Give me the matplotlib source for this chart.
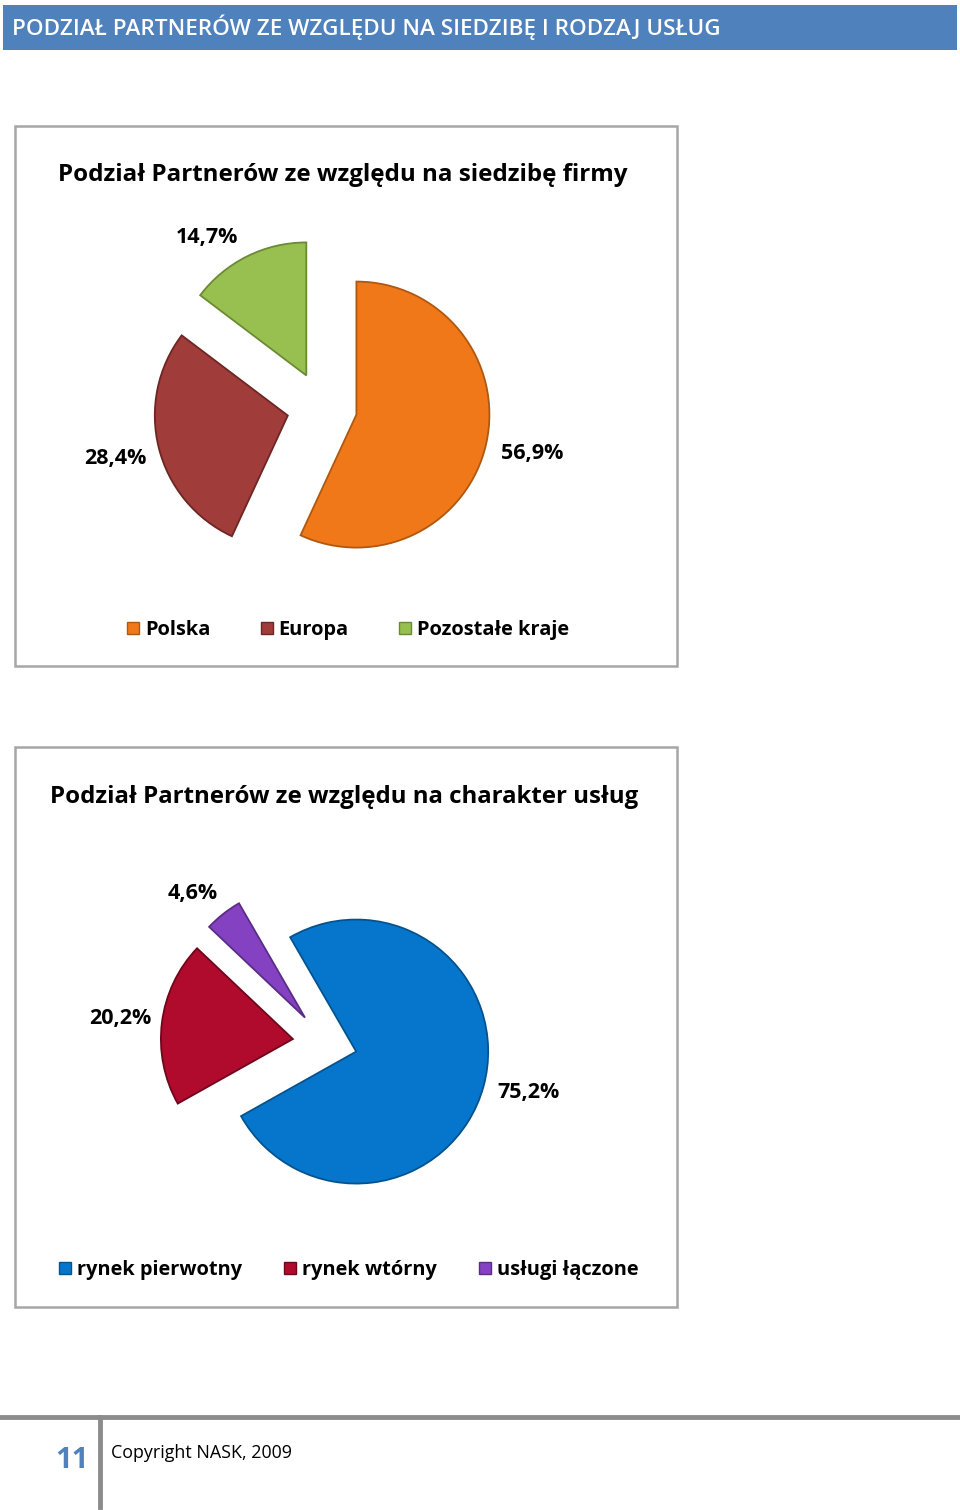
import matplotlib
matplotlib.use("Agg")
import numpy as np
import matplotlib.pyplot as plt
from matplotlib.patches import Rectangle, Patch

plt.rcParams['font.family'] = ['Open Sans', 'DejaVu Sans']

# data
header = "PODZIAŁ PARTNERÓW ZE WZGLĘDU NA SIEDZIBĘ I RODZAJ USŁUG"

title1 = "Podział Partnerów ze względu na siedzibę firmy"
names1 = ["Polska", "Europa", "Pozostałe kraje"]
values1 = [56.9, 28.4, 14.7]
colors1 = ["#F07818", "#A03C3A", "#98C050"]
edges1 = ["#B05810", "#6E2624", "#6A8A34"]

title2 = "Podział Partnerów ze względu na charakter usług"
names2 = ["rynek pierwotny", "rynek wtórny", "usługi łączone"]
values2 = [75.2, 20.2, 4.6]
colors2 = ["#0676CC", "#B00A2C", "#8442C2"]
edges2 = ["#04538F", "#70061C", "#5A2C86"]

W, H = 960, 1510
fig = plt.figure(figsize=(W / 100, H / 100), dpi=100)

# page layer in pixel coordinates
bg = fig.add_axes([0, 0, 1, 1])
bg.set_xlim(0, W)
bg.set_ylim(H, 0)
bg.axis('off')

# header bar
bg.add_patch(Rectangle((3, 5), 954, 45, facecolor="#4F81BD", edgecolor="none"))
bg.text(12, 27, header, color="white", fontsize=16.2, fontweight="semibold",
        ha="left", va="center")

# chart frames
for top, h in ((126, 540), (747, 560)):
    bg.add_patch(Rectangle((15, top), 662, h, facecolor="white",
                           edgecolor="#A6A6A6", linewidth=1.8))

bg.text(343, 175, title1, fontsize=17.4, fontweight="bold", ha="center", va="center")
bg.text(344, 797, title2, fontsize=17.3, fontweight="bold", ha="center", va="center")

# footer
bg.plot([0, W], [1417, 1417], color="#8C8C8C", linewidth=3.5)
bg.plot([100, 100], [1417, 1507], color="#8C8C8C", linewidth=3.5)
bg.text(72, 1461, "11", color="#4F81BD", fontsize=21, fontweight="bold",
        ha="center", va="center")
bg.text(111, 1453, "Copyright NASK, 2009", fontsize=12.9, ha="left", va="center")


def fmt(v):
    return ("%.1f%%" % v).replace(".", ",")


def draw_pie(cx, cy, r, values, colors, edges, startangle, explode, ldist, lrot):
    half = 230
    ax = fig.add_axes([(cx - half) / W, 1 - (cy + half) / H, 2 * half / W, 2 * half / H])
    wedges, _ = ax.pie(values, colors=colors, startangle=startangle,
                       counterclock=False, explode=[explode] * len(values),
                       wedgeprops=dict(linewidth=1.3))
    for w, ec, v, d, rot in zip(wedges, edges, values, ldist, lrot):
        w.set_edgecolor(ec)
        ang = np.deg2rad((w.theta1 + w.theta2) / 2 + rot)
        ax.text(d * np.cos(ang), d * np.sin(ang), fmt(v), ha="center", va="center",
                fontsize=15.5, fontweight="bold")
    lim = half / r
    ax.set_xlim(-lim, lim)
    ax.set_ylim(-lim, lim)
    ax.axis('off')
    return wedges


draw_pie(322, 407, 133, values1, colors1, edges1, 90, 0.265,
         [1.62, 1.6, 1.54], [0, 0, 7.7])
draw_pie(325, 1043, 132, values2, colors2, edges2, 120, 0.245,
         [1.59, 1.56, 1.51], [1.6, 0.3, 3.3])


def legend(names, colors, edges, x, y, spacing):
    handles = [Patch(facecolor=c, edgecolor=e, linewidth=1) for c, e in zip(colors, edges)]
    fig.legend(handles, names, loc="center", bbox_to_anchor=(x / W, 1 - y / H),
               ncol=3, frameon=False,
               prop=dict(family=['Open Sans', 'DejaVu Sans'], weight='bold', size=14.4),
               handlelength=0.6, handleheight=0.6, handletextpad=0.3,
               columnspacing=spacing)


legend(names1, colors1, edges1, 348, 630, 2.5)
legend(names2, colors2, edges2, 349, 1270, 2.1)

fig.savefig("out.png", dpi=100)
